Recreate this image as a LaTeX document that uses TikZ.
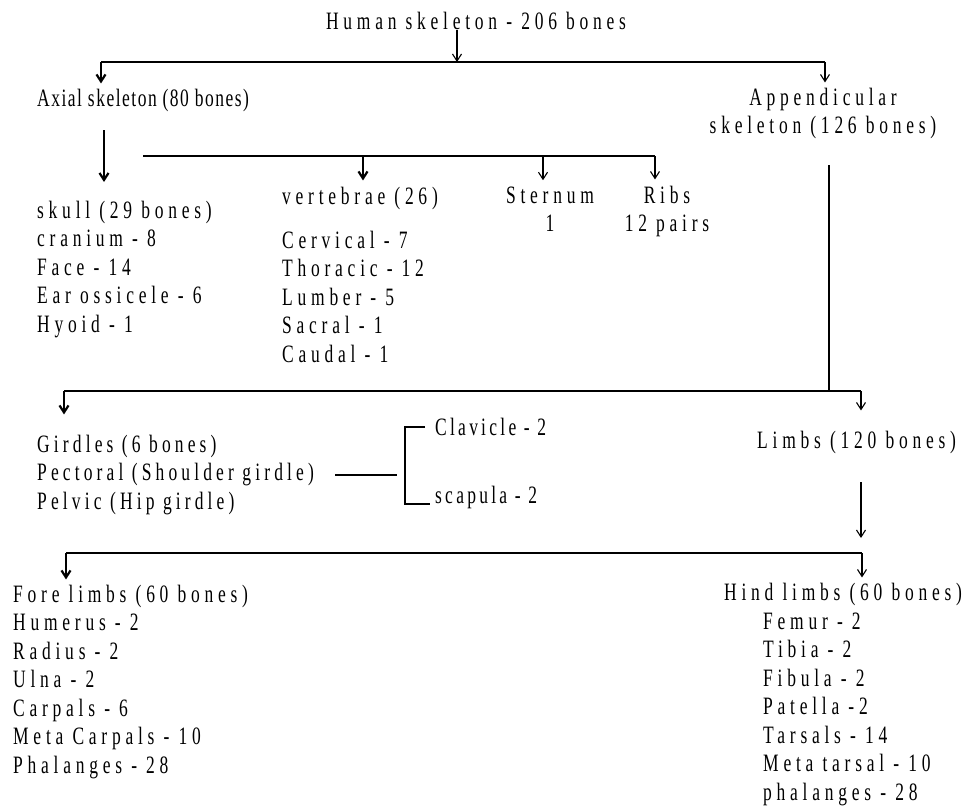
\documentclass[tikz,border=0pt]{standalone}
\usepackage{fontspec}
\setmainfont{Liberation Serif}
\newfontfamily\widefont[FakeStretch=0.7,LetterSpace=19]{Liberation Serif}
\newfontfamily\midfont[FakeStretch=0.7,LetterSpace=16.5]{Liberation Serif}
\newfontfamily\lessfont[FakeStretch=0.7,LetterSpace=13]{Liberation Serif}
\newfontfamily\tightfont[FakeStretch=0.7,LetterSpace=6]{Liberation Serif}
\usetikzlibrary{arrows.meta}
\begin{document}
\begin{tikzpicture}[x=1bp,y=-1bp,
  lbl/.style={inner sep=0pt, font=\widefont\fontsize{25bp}{28.5bp}\selectfont, align=left, anchor=base west},
  tlbl/.style={lbl, font=\tightfont\fontsize{25bp}{28.5bp}\selectfont},
  mlbl/.style={lbl, font=\midfont\fontsize{25bp}{28.5bp}\selectfont},
  llbl/.style={lbl, font=\lessfont\fontsize{25bp}{28.5bp}\selectfont},
  clbl/.style={lbl, align=center, anchor=base},
  bus/.style={line width=2.6bp},
  busthin/.style={line width=1.8bp},
  conn/.style={line width=1.2bp},
  thickarr/.style={line width=2.2bp, -{Straight Barb[length=7bp,width=9bp]}},
  thinarr/.style={line width=1.1bp, -{Straight Barb[length=7bp,width=9bp]}}
]
\useasboundingbox (0,0) rectangle (976,810);
\fill[white] (0,0) rectangle (976,810);

% nodes (base anchor of a multi-line node = baseline of its last line)
\node[clbl] (human) at (476,30) {Human skeleton - 206 bones};
\node[tlbl] (axial) at (37,106) {Axial skeleton (80 bones)};
\node[clbl] (append) at (823,133.5) {Appendicular\\skeleton (126 bones)};
\node[lbl] (skull) at (37,332) {skull (29 bones)\\cranium - 8\\Face - 14\\Ear ossicele - 6\\Hyoid - 1};
\node[lbl] (vert) at (282,204) {vertebrae (26)};
\node[lbl] (vlist) at (282,362) {Cervical - 7\\Thoracic - 12\\Lumber - 5\\Sacral - 1\\Caudal - 1};
\node[clbl] (sternum) at (550,231.5) {Sternum\\1};
\node[clbl] (ribs) at (667,231.5) {Ribs\\12 pairs};
\node[mlbl] (girdles) at (37,509) {Girdles (6 bones)\\Pectoral (Shoulder girdle)\\Pelvic (Hip girdle)};
\node[llbl] (clav) at (435,435) {Clavicle - 2};
\node[llbl] (scap) at (435,503) {scapula - 2};
\node[lbl] (limbs) at (757,448) {Limbs (120 bones)};
\node[lbl] (fore) at (13,773) {Fore limbs (60 bones)\\Humerus - 2\\Radius - 2\\Ulna - 2\\Carpals - 6\\Meta Carpals - 10\\Phalanges - 28};
\node[lbl] (hind) at (724,600) {Hind limbs (60 bones)};
\node[lbl] (hlist) at (763,800) {Femur - 2\\Tibia - 2\\Fibula - 2\\Patella -2\\Tarsals - 14\\Meta tarsal - 10\\phalanges - 28};

% coordinates of bus lines and free ends
\coordinate (h1) at (457,62);
\coordinate (b1L) at (101,62);
\coordinate (b1R) at (825,62);
\coordinate (a1) at (104,130);
\coordinate (a2) at (104,182);
\coordinate (b2L) at (143,156);
\coordinate (b2R) at (655,156);
\coordinate (v1) at (363,156);
\coordinate (s1) at (543,156);
\coordinate (p1) at (829,165);
\coordinate (p2) at (829,391);
\coordinate (b3L) at (64,391);
\coordinate (b3R) at (861,391);
\coordinate (l1) at (861,482);
\coordinate (l2) at (861,538);
\coordinate (b4L) at (66,553);
\coordinate (b4R) at (862,553);
\coordinate (g1) at (335,475);
\coordinate (g2) at (397,475);
\coordinate (k1) at (405,427);
\coordinate (k2) at (405,504);
\coordinate (k1e) at (425,427);
\coordinate (k2e) at (430,504);

% connectors
\draw[thinarr] (human.south -| h1) -- (h1);
\draw[bus] (b1L) -- (b1R);
\draw[thickarr] (b1L) -- ([yshift=5bp]axial.north -| b1L);
\draw[thinarr] (b1R) -- ([yshift=5bp]append.north -| b1R);

\draw[thickarr] (a1) -- (a2);
\draw[bus] (b2L) -- (b2R);
\draw[thickarr] (v1) -- ([yshift=6bp]vert.north -| v1);
\draw[thinarr] (s1) -- ([yshift=6bp]sternum.north -| s1);
\draw[thinarr] (b2R) -- ([yshift=6bp]ribs.north -| b2R);

\draw[line width=1.6bp] (p1) -- (p2);
\draw[busthin] (b3L) -- (b3R);
\draw[thickarr] (b3L) -- ([yshift=20bp]girdles.north -| b3L);
\draw[thinarr] (b3R) -- ([yshift=20bp]limbs.north -| b3R);

\draw[thinarr] (l1) -- (l2);
\draw[bus, line width=2.2bp] (b4L) -- (b4R);
\draw[thickarr] (b4L) -- ([yshift=5bp]fore.north -| b4L);
\draw[thinarr] (b4R) -- ([yshift=5bp]hind.north -| b4R);

\draw[conn] (g1) -- (g2);
\draw[line width=1.8bp] (k1e) -- (k1) -- (k2) -- (k2e);
\end{tikzpicture}
\end{document}
